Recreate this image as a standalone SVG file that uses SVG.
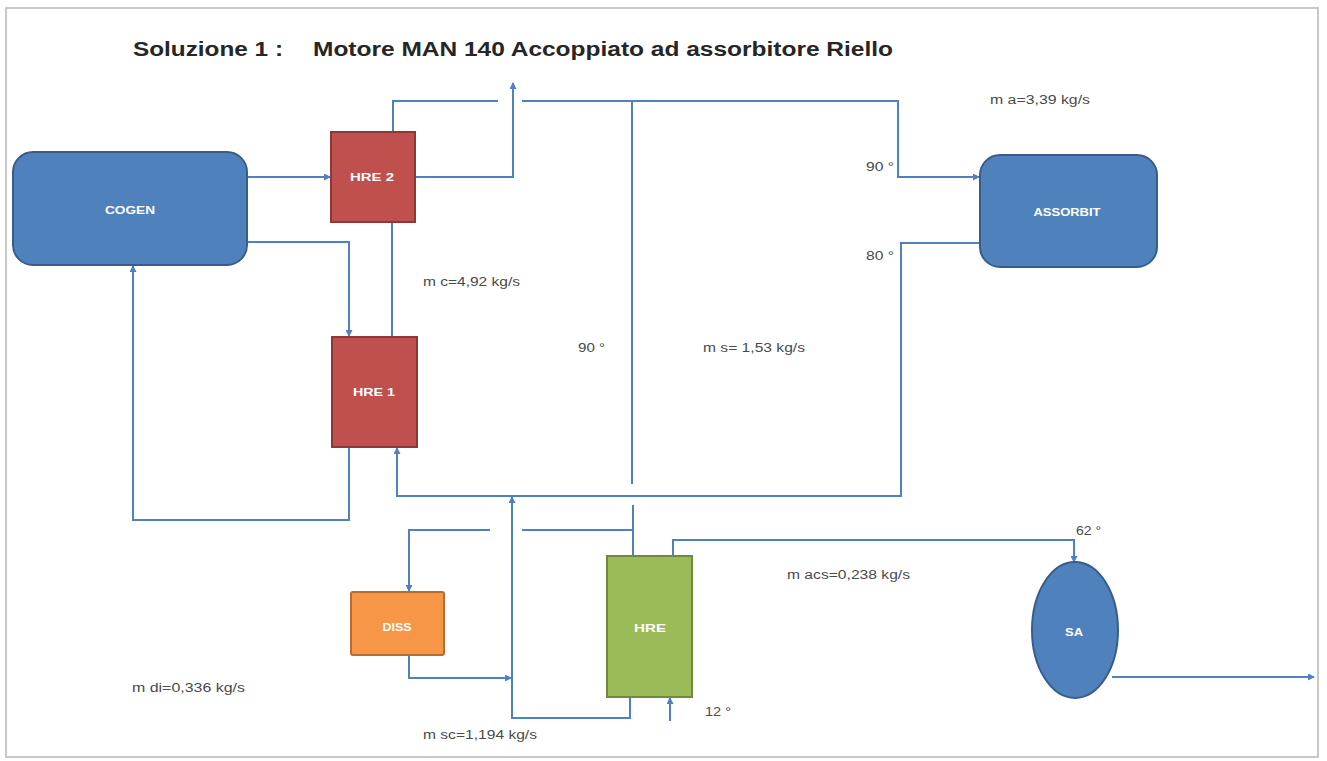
<svg xmlns="http://www.w3.org/2000/svg" width="1327" height="761" viewBox="0 0 1327 761">
<style>
.frame{fill:#ffffff;stroke:#c8c8c8;stroke-width:2}
.title{font-family:"Liberation Sans",Arial,sans-serif;font-weight:bold;font-size:20px;fill:#262626}
.lbl{font-family:"Liberation Sans",Arial,sans-serif;font-size:12px;fill:#4a4a4a}
.nl{font-family:"Liberation Sans",Arial,sans-serif;font-weight:bold;font-size:10px;fill:#ffffff;text-anchor:middle}
.blue{fill:#4F81BD;stroke:#385D8A;stroke-width:2}
.red{fill:#C0504D;stroke:#8C3836;stroke-width:2}
.green{fill:#9BBB59;stroke:#71893F;stroke-width:2}
.orange{fill:#F79646;stroke:#B66D31;stroke-width:2}
.ln{fill:none;stroke:#4F81BD;stroke-width:2}
.arr{fill:none;stroke:#4F81BD;stroke-width:2;marker-end:url(#ah)}
</style>
<defs>
<marker id="ah" markerUnits="userSpaceOnUse" markerWidth="7" markerHeight="7" refX="6" refY="3.5" orient="auto">
<path d="M0,0 L7,3.5 L0,7 z" fill="#4F81BD"/>
</marker>
</defs>
<rect class="frame" x="6" y="8" width="1312" height="749"/>
<text class="title" x="133" y="56" textLength="150" lengthAdjust="spacingAndGlyphs">Soluzione 1 :</text>
<text class="title" x="313" y="56" textLength="580" lengthAdjust="spacingAndGlyphs">Motore MAN 140 Accoppiato ad assorbitore Riello</text>

<g id="connectors">
<path class="arr" d="M247,177 H330"/>
<path class="arr" d="M415,177 H513 V83"/>
<path class="ln" d="M393,131 V101 H498"/>
<path class="arr" d="M522,101 H898 V177 H979"/>
<path class="ln" d="M632,101 V484"/>
<path class="arr" d="M248,242 H349 V336"/>
<path class="ln" d="M392,222 V337"/>
<path class="arr" d="M349,448 V520 H133 V266"/>
<path class="arr" d="M979,243 H901 V496 H397 V448"/>
<path class="arr" d="M630,697 V718 H512 V497"/>
<path class="arr" d="M409,655 V678 H511"/>
<path class="arr" d="M490,530 H409 V591"/>
<path class="ln" d="M522,530 H633"/>
<path class="ln" d="M633,505 V556"/>
<path class="arr" d="M673,556 V540 H1074 V562"/>
<path class="arr" d="M670,721 V698"/>
<path class="arr" d="M1112,677 H1314"/>
</g>

<g id="cogen"><rect class="blue" x="13" y="152" width="234" height="113" rx="20"/><text class="nl" x="130" y="214" textLength="50" lengthAdjust="spacingAndGlyphs">COGEN</text></g>
<g id="hre2"><rect class="red" x="331" y="132" width="84" height="90"/><text class="nl" x="372" y="181" textLength="44" lengthAdjust="spacingAndGlyphs">HRE 2</text></g>
<g id="hre1"><rect class="red" x="332" y="337" width="85" height="110"/><text class="nl" x="374" y="396" textLength="42" lengthAdjust="spacingAndGlyphs">HRE 1</text></g>
<g id="assorbit"><rect class="blue" x="980" y="155" width="177" height="112" rx="20"/><text class="nl" x="1067" y="216" textLength="67" lengthAdjust="spacingAndGlyphs">ASSORBIT</text></g>
<g id="diss"><rect class="orange" x="351" y="592" width="93" height="63" rx="2"/><text class="nl" x="397" y="631" textLength="29" lengthAdjust="spacingAndGlyphs">DISS</text></g>
<g id="hre"><rect class="green" x="607" y="556" width="85" height="141"/><text class="nl" x="650" y="632" textLength="32" lengthAdjust="spacingAndGlyphs">HRE</text></g>
<g id="sa"><ellipse class="blue" cx="1075" cy="630" rx="43" ry="68"/><text class="nl" x="1074" y="636" textLength="18" lengthAdjust="spacingAndGlyphs">SA</text></g>

<g id="labels">
<text class="lbl" x="423" y="286" textLength="97" lengthAdjust="spacingAndGlyphs">m c=4,92 kg/s</text>
<text class="lbl" x="578" y="352" textLength="27" lengthAdjust="spacingAndGlyphs">90 °</text>
<text class="lbl" x="703" y="352" textLength="102" lengthAdjust="spacingAndGlyphs">m s= 1,53 kg/s</text>
<text class="lbl" x="990" y="104" textLength="100" lengthAdjust="spacingAndGlyphs">m a=3,39 kg/s</text>
<text class="lbl" x="866" y="171" textLength="28" lengthAdjust="spacingAndGlyphs">90 °</text>
<text class="lbl" x="866" y="260" textLength="28" lengthAdjust="spacingAndGlyphs">80 °</text>
<text class="lbl" x="1076" y="535" textLength="25" lengthAdjust="spacingAndGlyphs">62 °</text>
<text class="lbl" x="787" y="579" textLength="123" lengthAdjust="spacingAndGlyphs">m acs=0,238 kg/s</text>
<text class="lbl" x="705" y="716" textLength="26" lengthAdjust="spacingAndGlyphs">12 °</text>
<text class="lbl" x="423" y="739" textLength="114" lengthAdjust="spacingAndGlyphs">m sc=1,194 kg/s</text>
<text class="lbl" x="132" y="692" textLength="113" lengthAdjust="spacingAndGlyphs">m di=0,336 kg/s</text>
</g>
</svg>
